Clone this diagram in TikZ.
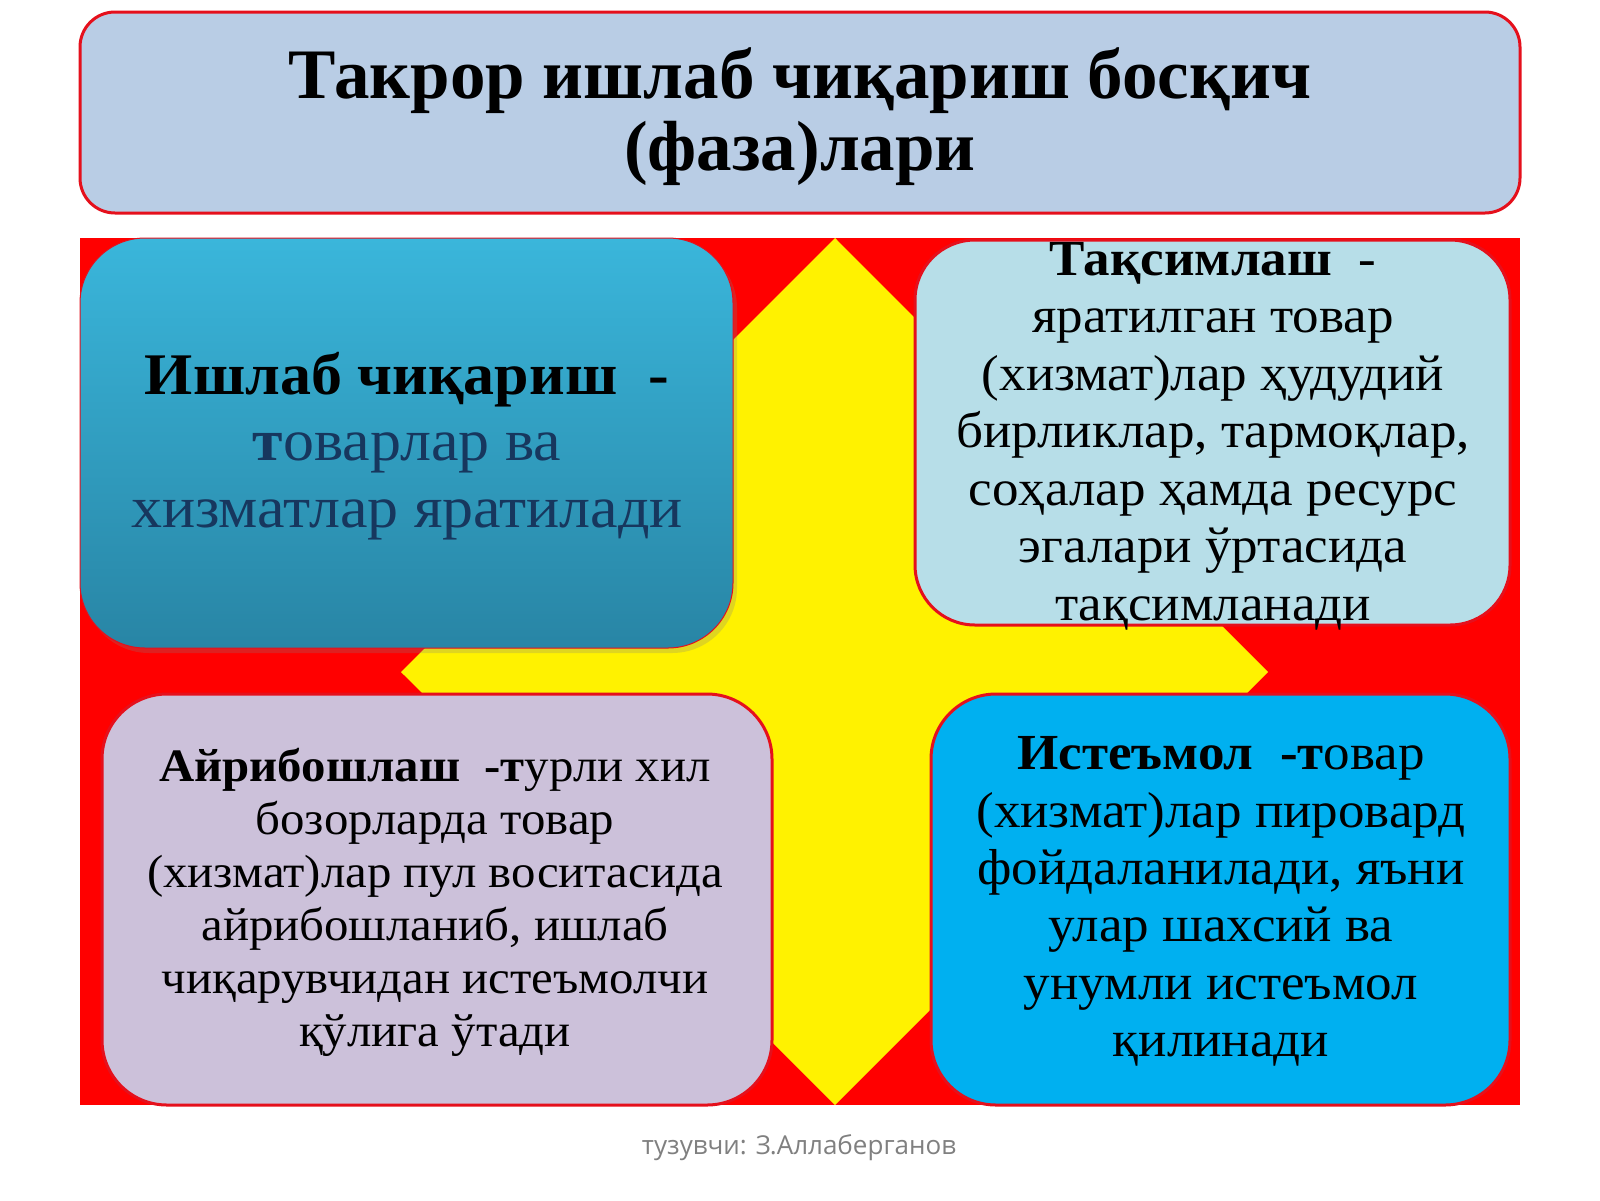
\documentclass[tikz,border=0pt]{standalone}
\usepackage{fontspec}
\setmainfont{Liberation Serif}
\newfontfamily\boxfont{Liberation Serif}[FakeStretch=1.05]
\newfontfamily\footfont{Open Sans}
\usetikzlibrary{positioning,shadows}

\definecolor{titlefill}{HTML}{B9CDE5}
\definecolor{tealtop}{HTML}{3AB6DB}
\definecolor{tealbot}{HTML}{2885A5}
\definecolor{paleblue}{HTML}{B7DEE8}
\definecolor{lavender}{HTML}{CCC1DA}
\definecolor{skyblue}{HTML}{00B0F0}
\definecolor{navy}{HTML}{17375E}
\definecolor{frame}{HTML}{E5101C}
\definecolor{footgray}{HTML}{808080}

\begin{document}
\begin{tikzpicture}[
            x=1pt, y=-1pt,
            phase/.style={draw=frame, line width=3pt, rounded corners=65pt, inner sep=0pt},
            phasetext/.style={align=center, inner sep=0pt},
        ]
        \useasboundingbox[fill=white] (0,0) rectangle (1600,1200);

        % Title
        \node[phase, rounded corners=35pt, fill=titlefill, minimum width=1440pt, minimum height=201pt] (title) at (800,112.5) {};
        \node[phasetext, font=\fontsize{71}{72.5}\selectfont\bfseries] (title-text) at (800,116.5) {Такрор ишлаб чиқариш босқич\\(фаза)лари};

        % Background and cross
        \fill[red] (80,238) rectangle (1520,1105);
        \fill[yellow] (835,238) -- (1268,672) -- (835,1105) -- (401,672) -- cycle;

        % Phases
        \node[phase, line width=1pt, top color=tealtop, bottom color=tealbot, drop shadow={opacity=0.25, shadow xshift=4pt, shadow yshift=-5pt}, minimum width=653pt, minimum height=410pt] (P-0) at (406.5,443) {};
        \node[phase, rounded corners=60pt, fill=paleblue, minimum width=595pt, minimum height=385pt] (P-1) at (1212.5,432.5) {};
        \node[phase, fill=lavender, minimum width=670pt, minimum height=411pt] (P-2) at (437,899.5) {};
        \node[phase, fill=skyblue, minimum width=579pt, minimum height=411pt] (P-3) at (1220.5,899.5) {};

        % Phase texts
        \node[phasetext, font=\boxfont\fontsize{59}{66.5}\selectfont] (T-0) at (407,446)
            {\textbf{Ишлаб чиқариш~~-}\\\textcolor{navy}{\textbf{т}оварлар ва}\\\textcolor{navy}{хизматлар яратилади}};
        \node[phasetext, font=\boxfont\fontsize{50.5}{57.5}\selectfont] (T-1) at (1213,436)
            {\textbf{Тақсимлаш}~~-\\яратилган товар\\(хизмат)лар ҳудудий\\бирликлар, тармоқлар,\\соҳалар ҳамда ресурс\\эгалари ўртасида\\тақсимланади};
        \node[phasetext, font=\boxfont\fontsize{46.5}{53}\selectfont] (T-2) at (435,902.5)
            {\textbf{Айрибошлаш~~-т}урли хил\\бозорларда товар\\(хизмат)лар пул воситасида\\айрибошланиб, ишлаб\\чиқарувчидан истеъмолчи\\қўлига ўтади};
        \node[phasetext, font=\boxfont\fontsize{50.5}{57.4}\selectfont] (T-3) at (1221,901.5)
            {\textbf{Истеъмол~~-т}овар\\(хизмат)лар пировард\\фойдаланилади, яъни\\улар шахсий ва\\унумли истеъмол\\қилинади};

        % Author
        \node[font=\footfont\fontsize{26}{30}\selectfont, text=footgray] (author) at (799,1148) {тузувчи: З.Аллаберганов};

    \end{tikzpicture}
\end{document}
